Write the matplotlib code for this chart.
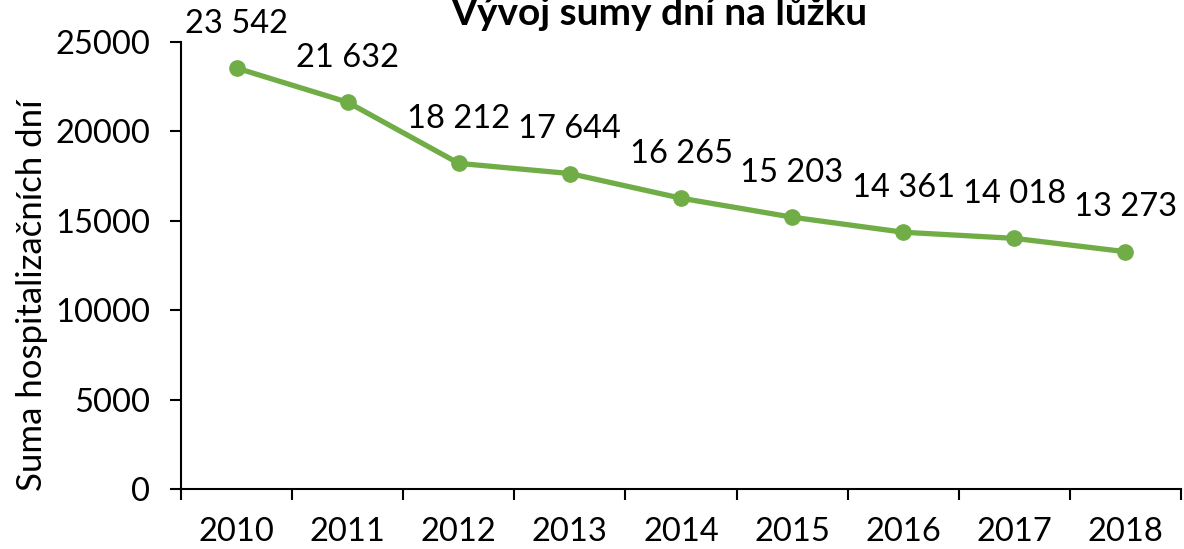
import matplotlib
matplotlib.use('Agg')
import matplotlib.pyplot as plt
import numpy as np

# roky a součet hospitalizačních dní
roky = ['2010', '2011', '2012', '2013', '2014', '2015', '2016', '2017', '2018']
dny = [23542, 21632, 18212, 17644, 16265, 15203, 14361, 14018, 13273]
y_ticks = [0, 5000, 10000, 15000, 20000, 25000]

plt.rcParams['font.family'] = ['Lato', 'DejaVu Sans']

fig = plt.figure(figsize=(11.84, 5.49), dpi=100)
ax = fig.add_axes([181 / 1184, 1 - 489 / 549, 1000 / 1184, 447 / 549])

x = np.arange(len(roky))
ax.plot(x, dny, color='#70AD47', lw=3.8, marker='o', ms=11, solid_capstyle='round')

for xi, v in zip(x, dny):
    lbl = f'{v:,}'.replace(',', ' ')
    ax.annotate(lbl, (xi, v), xytext=(0, 32), textcoords='offset points',
                ha='center', va='center', fontsize=23.5)

ax.set_xlim(-0.5, len(roky) - 0.5)
ax.set_ylim(0, 25000)
ax.set_yticks(y_ticks)
ax.set_yticklabels([str(t) for t in y_ticks], fontsize=23.5)

# hlavní značky mezi kategoriemi, popisky uprostřed
ax.set_xticks(np.arange(-0.5, len(roky)), minor=False)
ax.set_xticklabels([])
ax.set_xticks(x, minor=True)
ax.set_xticklabels(roky, minor=True, fontsize=23.5)
ax.tick_params(axis='x', which='minor', length=0, pad=20)
ax.tick_params(axis='x', which='major', length=8, width=1.5, direction='out')
ax.tick_params(axis='y', length=8, width=1.5, direction='out', pad=14)

for s in ['top', 'right']:
    ax.spines[s].set_visible(False)
for s in ['left', 'bottom']:
    ax.spines[s].set_linewidth(1.5)
    ax.spines[s].set_color('black')

ax.set_ylabel('Suma hospitalizačních dní', fontsize=25)
ax.yaxis.set_label_coords(-0.133, 0.434)
fig.text(659 / 1184, 1 - 25 / 549, 'Vývoj sumy dní na lůžku', ha='center', va='baseline',
         fontsize=28, fontweight='bold')

fig.savefig('out.png', dpi=100)
